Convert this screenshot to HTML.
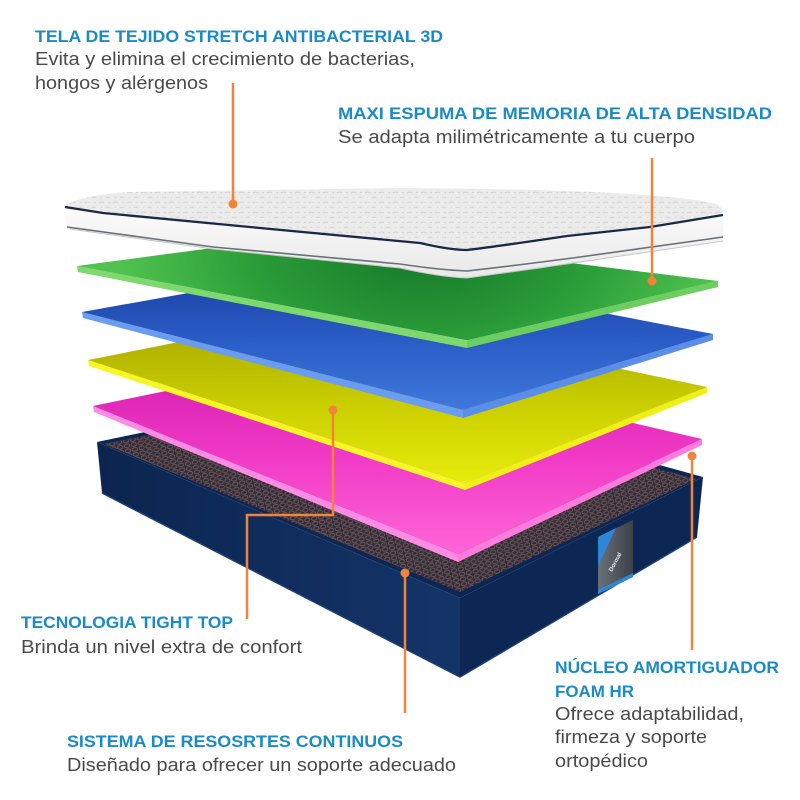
<!DOCTYPE html>
<html><head><meta charset="utf-8"><style>
html,body{margin:0;padding:0;background:#fff;}
svg{display:block;}
.h{font-family:"Liberation Sans",sans-serif;font-weight:bold;font-size:17px;fill:#1a8bc9;}
.d{font-family:"Liberation Sans",sans-serif;font-size:18px;fill:#4a4a4a;}
</style></head><body>
<svg width="800" height="800" viewBox="0 0 800 800" xmlns="http://www.w3.org/2000/svg">
<defs>
  <pattern id="mesh" width="7" height="5" patternUnits="userSpaceOnUse" patternTransform="rotate(-12)">
    <rect width="7" height="5" fill="#372c33"/>
    <ellipse cx="3.5" cy="2.5" rx="2.7" ry="1.8" fill="none" stroke="#6c5c66" stroke-width="0.9"/>
  </pattern>
  <pattern id="quilt" width="14" height="10" patternUnits="userSpaceOnUse">
    <rect width="14" height="10" fill="#ebebeb"/>
    <path d="M1,3 q3,-2 5,0 M8,8 q2,-2 4,0 M10,2 l2,1 M3,7 l1,1" stroke="#cdcdcd" stroke-width="0.8" fill="none"/>
  </pattern>
  <radialGradient id="gTop" gradientUnits="userSpaceOnUse" cx="420" cy="255" r="300" gradientTransform="translate(420 255) scale(1 0.5) translate(-420 -255)">
    <stop offset="0" stop-color="#16792a"/><stop offset="0.55" stop-color="#2a9c38"/><stop offset="1" stop-color="#4fc24f"/>
  </radialGradient>
  <linearGradient id="bTop" gradientUnits="userSpaceOnUse" x1="0" y1="270" x2="0" y2="410">
    <stop offset="0" stop-color="#1a3fa0"/><stop offset="0.5" stop-color="#2a5cc6"/><stop offset="1" stop-color="#3f78db"/>
  </linearGradient>
  <linearGradient id="yTop" gradientUnits="userSpaceOnUse" x1="0" y1="315" x2="0" y2="483">
    <stop offset="0" stop-color="#a4a600"/><stop offset="0.5" stop-color="#c8cc00"/><stop offset="1" stop-color="#e6ec0c"/>
  </linearGradient>
  <linearGradient id="pTop" gradientUnits="userSpaceOnUse" x1="0" y1="360" x2="0" y2="555">
    <stop offset="0" stop-color="#d61caf"/><stop offset="0.5" stop-color="#f03ac6"/><stop offset="1" stop-color="#ff66d8"/>
  </linearGradient>
  <linearGradient id="tSide" gradientUnits="userSpaceOnUse" x1="0" y1="210" x2="0" y2="278">
    <stop offset="0" stop-color="#fbfbfb"/><stop offset="1" stop-color="#e8e8e8"/>
  </linearGradient>
  <linearGradient id="baseL" gradientUnits="userSpaceOnUse" x1="100" y1="0" x2="460" y2="0">
    <stop offset="0" stop-color="#0c2550"/><stop offset="1" stop-color="#143468"/>
  </linearGradient>
  <linearGradient id="lbl" gradientUnits="userSpaceOnUse" x1="598" y1="0" x2="633" y2="0">
    <stop offset="0" stop-color="#6a7078"/><stop offset="1" stop-color="#3c4048"/>
  </linearGradient>
</defs>

<!-- BASE -->
<polygon points="97,442 370,385 703,477 460,598" fill="#0e2654"/>
<polygon points="104,444 370,391 696,479 460,592" fill="url(#mesh)"/>
<polygon points="97,442 460,598 460,677 102,493" fill="url(#baseL)"/>
<polygon points="460,598 703,477 697,537 460,677" fill="#0d2755"/>
<path d="M102,493 L460,677 L697,537" fill="none" stroke="#1d3d75" stroke-width="1.5"/>
<!-- label -->
<polygon points="598,537 633,520 633,577 598,594" fill="url(#lbl)"/>
<polygon points="598,537 616,528 598,566" fill="#2f86d6"/>
<polygon points="598,590 633,573 633,577 598,594" fill="#2f86d6"/>
<text x="0" y="0" transform="translate(612,572) rotate(-62)" font-family="Liberation Sans,sans-serif" font-size="6" font-weight="bold" fill="#e8e8e8">Dormal</text>

<!-- PINK -->
<polygon points="93,406 458,554 458,562 94,412" fill="#ff8be4"/>
<polygon points="458,554 702,439 702,445 458,562" fill="#ff7cdf"/>
<polygon points="93,406 340,355 702,439 458,554" fill="url(#pTop)"/>

<!-- YELLOW -->
<polygon points="88,360 465,483 465,490 89,366" fill="#f6f626"/>
<polygon points="465,483 707,387 707,393 465,490" fill="#eef018"/>
<polygon points="88,360 340,310 707,387 465,483" fill="url(#yTop)"/>

<!-- BLUE -->
<polygon points="82,312 463,410 463,418 83,318" fill="#6a9cf0"/>
<polygon points="463,410 713,334 713,340 463,418" fill="#5a8ee8"/>
<polygon points="82,312 350,264 713,334 463,410" fill="url(#bTop)"/>

<!-- GREEN -->
<polygon points="77,266 467,340 467,348 78,272" fill="#7ed86e"/>
<polygon points="467,340 718,281 718,287 467,348" fill="#6ccd60"/>
<polygon points="77,266 325,233 718,281 467,340" fill="url(#gTop)"/>

<!-- TOPPER -->
<path d="M65,206 L103,213 L260,228 L420,243 Q450,249 467,250 Q500,246 567,235 L650,226 L723,214 L723,240 L580,262 Q520,271 467,278 Q440,277 400,268 L213,249 L67,229 Z" fill="url(#tSide)"/>
<path d="M65,206 C75,199 95,194 130,192 L400,188 C560,189 680,194 716,204 Q724,208 723,214 L650,226 L567,235 Q500,246 467,250 Q450,249 420,243 L260,228 L103,213 Z" fill="url(#quilt)"/>
<path d="M67,227 L213,247 L400,264 Q440,270 467,271 Q520,265 580,257 L723,237" fill="none" stroke="#6a6f78" stroke-width="1.6"/>
<path d="M70,229 L213,249 L400,268 Q440,277 467,278 Q520,271 580,262 L723,241" fill="none" stroke="#c4c4c4" stroke-width="1"/>
<path d="M65,207 L103,213 L260,228 L420,243 Q450,250 467,250 Q500,246 567,236 L650,227 L723,215" fill="none" stroke="#1c2848" stroke-width="2.3"/>

<!-- CONNECTORS -->
<g stroke="#f0843a" stroke-width="2.5" fill="none">
  <line x1="233" y1="83" x2="233" y2="204"/>
  <line x1="652" y1="158" x2="652" y2="281"/>
  <polyline points="333,410 333,515 247,515 247,619"/>
  <line x1="405" y1="573" x2="405" y2="713"/>
  <line x1="692" y1="456" x2="692" y2="650"/>
</g>
<g fill="#f0843a">
  <circle cx="233" cy="204" r="4.5"/>
  <circle cx="652" cy="281" r="4.5"/>
  <circle cx="333" cy="410" r="4.5"/>
  <circle cx="405" cy="573" r="4.5"/>
  <circle cx="692" cy="456" r="4.5"/>
</g>

<!-- TEXT -->
<text class="h" x="35" y="42" textLength="408" lengthAdjust="spacingAndGlyphs">TELA DE TEJIDO STRETCH ANTIBACTERIAL 3D</text>
<text class="d" x="35" y="65" textLength="380" lengthAdjust="spacingAndGlyphs">Evita y elimina el crecimiento de bacterias,</text>
<text class="d" x="35" y="89" textLength="173" lengthAdjust="spacingAndGlyphs">hongos y alérgenos</text>

<text class="h" x="338" y="119" textLength="434" lengthAdjust="spacingAndGlyphs">MAXI ESPUMA DE MEMORIA DE ALTA DENSIDAD</text>
<text class="d" x="338" y="143" textLength="357" lengthAdjust="spacingAndGlyphs">Se adapta milimétricamente a tu cuerpo</text>

<text class="h" x="21" y="628" textLength="212" lengthAdjust="spacingAndGlyphs">TECNOLOGIA TIGHT TOP</text>
<text class="d" x="21" y="653" textLength="281" lengthAdjust="spacingAndGlyphs">Brinda un nivel extra de confort</text>

<text class="h" x="555" y="673" textLength="224" lengthAdjust="spacingAndGlyphs">NÚCLEO AMORTIGUADOR</text>
<text class="h" x="555" y="697" textLength="79" lengthAdjust="spacingAndGlyphs">FOAM HR</text>
<text class="d" x="555" y="720" textLength="189" lengthAdjust="spacingAndGlyphs">Ofrece adaptabilidad,</text>
<text class="d" x="555" y="743" textLength="152" lengthAdjust="spacingAndGlyphs">firmeza y soporte</text>
<text class="d" x="555" y="767" textLength="93" lengthAdjust="spacingAndGlyphs">ortopédico</text>

<text class="h" x="67" y="747" textLength="336" lengthAdjust="spacingAndGlyphs">SISTEMA DE RESOSRTES CONTINUOS</text>
<text class="d" x="67" y="771" textLength="389" lengthAdjust="spacingAndGlyphs">Diseñado para ofrecer un soporte adecuado</text>
</svg>
</body></html>
